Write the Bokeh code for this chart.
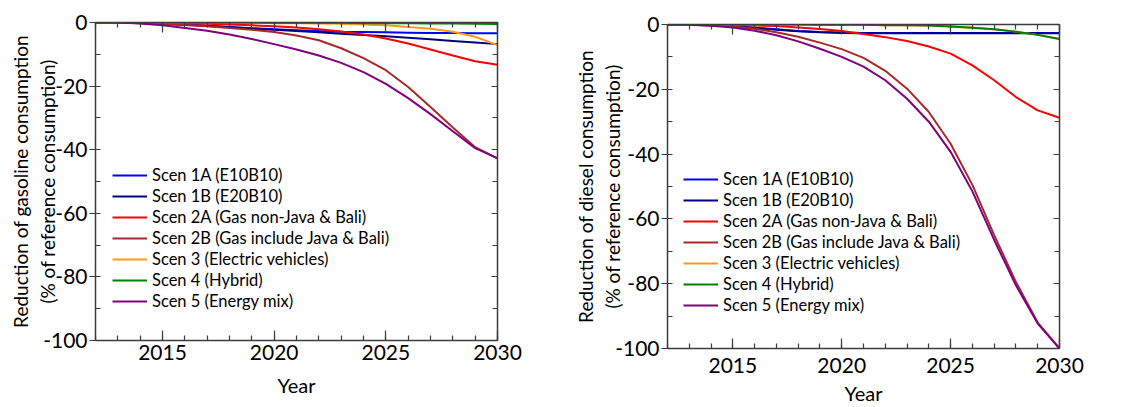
import numpy as np
from bokeh.plotting import figure
from bokeh.layouts import row, column
from bokeh.models import (LinearAxis, Range1d, FixedTicker, Legend, LegendItem,
                          PrintfTickFormatter, CustomLabelingPolicy)
from bokeh.embed import file_html
from bokeh.resources import INLINE

nan = float("nan")
years = list(range(2012, 2031))

labels = ["Scen 1A (E10B10)", "Scen 1B (E20B10)", "Scen 2A (Gas non-Java & Bali)",
          "Scen 2B (Gas include Java & Bali)", "Scen 3 (Electric vehicles)",
          "Scen 4 (Hybrid)", "Scen 5 (Energy mix)"]
colors = ["#0000ff", "#00007f", "#ff0000", "#a52a2a", "#ff9a1a", "#008000", "#800080"]

# Gasoline (left panel), 2012..2030
gas_1a = [0, 0, -0.1, -0.3, -0.6, -1.0, -1.4, -1.8, -2.1, -2.4, -2.7, -2.9, -3.0, -3.1, -3.2, -3.3, -3.3, -3.4, -3.4]
gas_1b = [0, 0, -0.1, -0.4, -0.7, -1.1, -1.5, -1.9, -2.3, -2.7, -3.1, -3.5, -3.9, -4.3, -4.8, -5.3, -5.8, -6.3, -6.8]
gas_2a = [nan, 0, 0, -0.1, -0.2, -0.4, -0.6, -0.9, -1.2, -1.6, -2.1, -2.8, -3.8, -5.0, -6.6, -8.5, -10.4, -12.2, -13.3]
gas_2b = [nan, 0, -0.2, -0.5, -0.8, -1.2, -1.7, -2.3, -3.0, -4.1, -5.6, -8.1, -11.2, -15.0, -20.3, -26.6, -33.0, -39.2, -42.7]
gas_3 = [nan, 0, 0, 0, 0, 0, -0.1, -0.1, -0.2, -0.2, -0.3, -0.4, -0.6, -0.9, -1.4, -2.0, -2.9, -4.5, -7.1]
gas_4 = [nan, 0, 0, 0, 0, 0, 0, 0, -0.1, -0.1, -0.1, -0.1, -0.2, -0.2, -0.2, -0.3, -0.3, -0.4, -0.5]
gas_5 = [nan, 0, -0.3, -0.9, -1.7, -2.6, -3.8, -5.2, -6.8, -8.5, -10.4, -12.7, -15.6, -19.3, -23.8, -28.8, -34.2, -39.5, -42.7]

# Diesel (right panel), 2012..2030
die_1a = [0, 0, -0.1, -0.5, -1.0, -1.5, -2.0, -2.3, -2.5, -2.6, -2.6, -2.6, -2.6, -2.6, -2.6, -2.6, -2.6, -2.6, -2.6]
die_1b = [0, 0, -0.1, -0.6, -1.1, -1.6, -2.1, -2.4, -2.6, -2.7, -2.7, -2.7, -2.7, -2.7, -2.7, -2.7, -2.7, -2.7, -2.7]
die_2a = [0, 0, 0, -0.1, -0.3, -0.5, -0.9, -1.4, -2.0, -2.9, -3.9, -5.1, -6.8, -9.0, -12.6, -17.2, -22.4, -26.5, -28.8]
die_2b = [0, -0.1, -0.3, -0.6, -1.3, -2.4, -3.8, -5.6, -7.6, -10.3, -14.3, -19.8, -27.0, -36.8, -49.5, -65.0, -79.5, -92.0, -100]
die_3 = [0, 0, 0, 0, 0, 0, 0, -0.1, -0.1, -0.1, -0.2, -0.2, -0.3, -0.6, -1.0, -1.5, -2.2, -3.2, -4.5]
die_4 = [0, 0, 0, 0, 0, 0, 0, -0.1, -0.1, -0.1, -0.2, -0.2, -0.3, -0.6, -1.0, -1.5, -2.2, -3.2, -4.5]
die_5 = [0, -0.1, -0.4, -0.9, -1.9, -3.3, -5.2, -7.5, -10.0, -13.0, -17.2, -22.9, -30.0, -39.3, -51.5, -66.5, -80.5, -92.3, -100]

x_major = [2015, 2020, 2025, 2030]
y_major = [-100, -80, -60, -40, -20, 0]

FONT = "Lato"
AX_COLOR = "#3c3c3c"


def style_axis(ax, tick_in, tick_out, minor_in, minor_out):
    ax.axis_line_color = AX_COLOR
    ax.axis_line_width = 1.5
    ax.major_tick_line_color = AX_COLOR
    ax.minor_tick_line_color = AX_COLOR
    ax.major_tick_line_width = 1.2
    ax.minor_tick_line_width = 1.2
    ax.major_tick_in = tick_in
    ax.major_tick_out = tick_out
    ax.minor_tick_in = minor_in
    ax.minor_tick_out = minor_out
    ax.major_label_text_font = FONT
    ax.major_label_text_color = "black"
    ax.major_label_text_font_size = "21px"
    ax.axis_label_text_font = FONT
    ax.axis_label_text_font_style = "normal"
    ax.axis_label_text_color = "black"


def hide_policy():
    return CustomLabelingPolicy(code="for (const i of indices) { indices.unset(i) }\nreturn indices")


def panel(w, bl, br, bt, bb, ylabel, series, leg_xy, ystandoff, xlab_standoff, xyear_standoff):
    p = figure(width=w, height=407, x_range=Range1d(2012, 2030), y_range=Range1d(-100, 0),
               output_backend="svg", toolbar_location=None,
               min_border_left=bl, min_border_right=br, min_border_top=bt, min_border_bottom=bb)
    p.xgrid.visible = False
    p.ygrid.visible = False
    p.outline_line_color = None
    p.background_fill_color = "white"
    p.border_fill_color = "white"

    xt = FixedTicker(ticks=x_major, minor_ticks=years)
    yt = FixedTicker(ticks=y_major, minor_ticks=list(range(-100, 1, 10)))

    p.xaxis.ticker = xt
    p.yaxis.ticker = yt
    p.xaxis.formatter = PrintfTickFormatter(format="%d")
    p.yaxis.formatter = PrintfTickFormatter(format="%d")
    style_axis(p.xaxis[0], 10, 0, 5, 0)
    style_axis(p.yaxis[0], 0, 6, 5, 0)
    p.xaxis.axis_label = "Year"
    p.xaxis.axis_label_text_font_size = "20px"
    p.xaxis.axis_label_standoff = xyear_standoff
    p.xaxis.major_label_standoff = xlab_standoff
    p.yaxis.axis_label = ylabel
    p.yaxis.axis_label_text_font_size = "19px"
    p.yaxis.axis_label_standoff = ystandoff
    p.yaxis.major_label_standoff = 2

    top = LinearAxis(ticker=xt, major_label_policy=hide_policy())
    style_axis(top, 10, 0, 5, 0)
    top.major_label_standoff = 0
    p.add_layout(top, "above")
    right = LinearAxis(ticker=yt, major_label_policy=hide_policy())
    style_axis(right, 6, 0, 5, 0)
    right.major_label_standoff = 0
    p.add_layout(right, "right")

    items = []
    for lab, col, vals in zip(labels, colors, series):
        r = p.line(years, np.array(vals, dtype=float), line_color=col, line_width=2)
        items.append(LegendItem(label=lab, renderers=[r]))

    leg = Legend(items=items, location=leg_xy, border_line_color=None,
                 background_fill_alpha=0, padding=0, margin=0, spacing=1,
                 glyph_width=35, glyph_height=20, label_height=20, label_standoff=5,
                 label_text_font=FONT, label_text_font_size="16.5px", label_text_color="black")
    p.add_layout(leg, "center")
    return p


left = panel(570, 95, 73, 22, 67,
             "Reduction of gasoline consumption\n(% of reference consumption)",
             [gas_1a, gas_1b, gas_2a, gas_2b, gas_3, gas_4, gas_5], (17, 29), -19, 4, 10)
right = panel(577, 91, 88, 24, 59,
              "Reduction of diesel consumption\n(% of reference consumption)",
              [die_1a, die_1b, die_2a, die_2b, die_3, die_4, die_5], (16, 33), -12, 9, 5)

layout = row(column(left), column(right))
open("out.html", "w").write(file_html(layout, INLINE))
